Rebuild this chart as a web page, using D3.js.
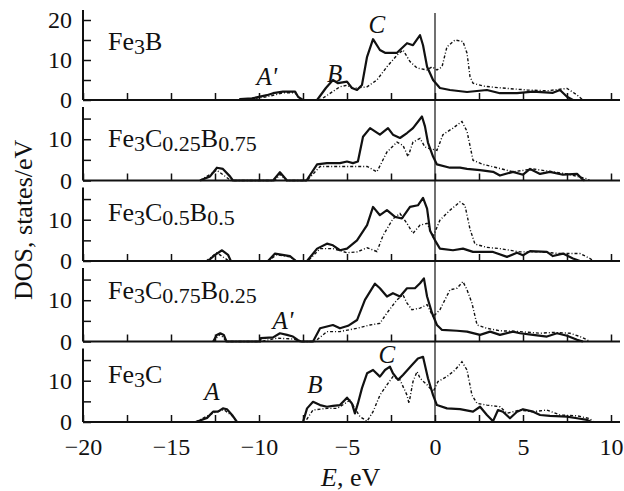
<!DOCTYPE html>
<html>
<head>
<meta charset="utf-8">
<script src="https://cdn.jsdelivr.net/npm/d3@7"></script>
<style>
  body { margin: 0; background: #fff; }
  text { font-family: "Liberation Serif", "Times New Roman", serif; fill: #111; }
</style>
</head>
<body>
<svg id="chart" width="624" height="491"></svg>
<script>
// ---- données : [E (eV), DOS (états/eV)] ----

const formulas = [
  [["Fe", 0], ["3", 1], ["B", 0]],
  [["Fe", 0], ["3", 1], ["C", 0], ["0.25", 1], ["B", 0], ["0.75", 1]],
  [["Fe", 0], ["3", 1], ["C", 0], ["0.5", 1], ["B", 0], ["0.5", 1]],
  [["Fe", 0], ["3", 1], ["C", 0], ["0.75", 1], ["B", 0], ["0.25", 1]],
  [["Fe", 0], ["3", 1], ["C", 0]]
];
// hauteur (en DOS) de la ligne de base du nom
const formulaDos = [12.5, 8.0, 9.7, 10.2, 9.4];

const fe3bUp = [[-11.1,0],[-11.08,0.2],[-10.4,0.4],[-9.55,1.2],[-9.2,1.7],[-8.64,2.1],[-7.95,2.1],[-7.78,0.8],[-7.5,0],[-6.7,0],[-6.2,3.0],[-5.8,5.0],[-5.51,4.2],[-5.0,4.6],[-4.72,3.0],[-4.43,2.5],[-4.15,3.75],[-3.86,10.8],[-3.52,15.2],[-3.13,12.5],[-2.84,11.8],[-2.16,11.8],[-1.59,14.2],[-1.25,13.7],[-0.85,16.2],[-0.68,13.7],[-0.45,8.3],[-0.11,5.0],[0.28,3.0],[0.85,2.5],[1.82,2.0],[2.95,2.5],[3.69,1.7],[4.66,1.7],[5.57,2.1],[6.7,1.8],[7.1,2.5],[7.5,0.8],[7.84,0]];
const fe3bDn = [[-11.1,0],[-10.4,0.3],[-9.55,0.8],[-8.64,1.8],[-7.95,1.8],[-7.6,0],[-6.53,0],[-5.4,3.3],[-5.0,3.7],[-4.66,2.9],[-3.86,3.3],[-3.3,5.0],[-2.73,8.3],[-2.16,11.2],[-1.82,12.5],[-1.42,9.6],[-1.02,8.0],[-0.45,7.5],[-0.17,8.3],[0.11,7.5],[0.4,8.3],[0.68,13.3],[1.14,15.0],[1.59,14.6],[1.82,11.7],[1.99,5.8],[2.16,4.2],[2.73,3.5],[3.3,3.2],[4.09,2.9],[5.23,2.5],[6.36,2.3],[7.5,2.9],[8.07,1.25],[8.41,0]];

const c25Up = [[-13.35,0],[-12.78,1.0],[-12.39,3.1],[-12.05,2.8],[-11.65,1.0],[-11.48,0],[-9.2,0],[-8.81,2.0],[-8.41,0],[-7.3,0],[-6.7,3.9],[-6.14,4.2],[-5.4,4.2],[-5.0,4.6],[-4.66,4.2],[-4.38,4.6],[-4.09,10.6],[-3.69,12.7],[-3.13,11.1],[-2.67,12.7],[-2.39,11.1],[-1.99,10.3],[-1.59,11.5],[-1.25,12.7],[-0.74,15.5],[-0.57,13.1],[-0.4,9.2],[-0.11,5.8],[0.11,3.9],[0.85,3.1],[1.42,3.1],[1.82,2.8],[2.56,2.5],[3.3,2.1],[3.69,1.2],[4.43,2.1],[5.0,1.4],[5.4,2.8],[5.97,1.6],[6.53,2.1],[7.27,1.4],[8.07,1.6],[8.35,0.4],[8.5,0]];
const c25Dn = [[-13.35,0],[-12.4,2.5],[-11.6,0],[-9.1,0],[-8.8,1.5],[-8.45,0],[-7.27,0],[-6.53,3.4],[-5.8,3.4],[-5.0,3.4],[-4.43,3.4],[-3.86,3.4],[-3.3,2.1],[-2.73,6.9],[-2.16,9.3],[-1.82,8.5],[-1.53,5.8],[-1.25,9.3],[-0.85,10.2],[-0.57,8.1],[-0.28,7.7],[0.11,7.3],[0.45,11.1],[1.02,12.7],[1.53,14.3],[1.82,11.9],[2.16,4.9],[2.73,3.9],[3.52,3.1],[4.43,2.1],[5.57,2.8],[6.7,2.1],[7.5,1.6],[8.64,0.4],[8.8,0]];

const c50Up = [[-12.9,0],[-12.5,1.5],[-12.1,2.6],[-11.76,1.5],[-11.6,0],[-9.49,0],[-9.09,1.8],[-8.24,1.2],[-7.9,0],[-7.27,0],[-6.7,3.0],[-6.14,4.2],[-5.8,3.8],[-5.4,2.6],[-5.0,3.0],[-4.43,5.0],[-3.86,8.7],[-3.52,13.1],[-3.13,11.1],[-2.73,12.3],[-2.27,10.7],[-1.88,10.3],[-1.42,13.1],[-0.97,13.5],[-0.68,15.3],[-0.45,12.7],[-0.28,7.3],[0,5.0],[0.28,3.0],[1.02,2.6],[1.59,3.0],[2.16,2.2],[3.3,2.2],[4.09,1.0],[4.66,2.0],[5.0,1.4],[5.4,2.4],[6.36,2.2],[6.7,1.2],[7.27,1.8],[7.84,0.6],[8.24,0]];
const c50Dn = [[-13.0,0],[-12.4,2.0],[-11.7,0],[-9.5,0],[-9.0,1.5],[-8.2,1.0],[-7.9,0],[-7.22,0],[-6.53,3.0],[-5.8,3.0],[-5.0,2.0],[-4.43,2.2],[-3.86,3.2],[-3.3,2.3],[-2.95,6.2],[-2.39,10.2],[-1.99,11.5],[-1.59,9.1],[-1.25,6.7],[-0.85,8.7],[-0.45,9.1],[-0.11,5.9],[0.28,9.9],[0.85,12.3],[1.42,14.3],[1.7,13.5],[1.99,7.7],[2.27,4.1],[2.95,3.3],[3.69,3.0],[4.83,2.2],[5.97,2.2],[7.1,1.8],[8.24,1.8],[8.81,0.6],[9.0,0]];

const c75Up = [[-12.6,0],[-12.4,1.6],[-12.2,2.0],[-12.0,1.6],[-11.85,0],[-9.94,0],[-9.9,0.8],[-9.2,1.0],[-8.81,2.0],[-8.41,1.6],[-8.07,1.2],[-7.78,0.3],[-7.6,0],[-6.93,0],[-6.53,3.2],[-5.8,4.0],[-5.4,3.2],[-4.94,3.8],[-4.43,5.2],[-3.98,10.1],[-3.41,14.0],[-3.13,12.9],[-2.73,10.9],[-2.39,11.7],[-1.99,10.9],[-1.59,12.9],[-1.14,12.9],[-0.85,14.1],[-0.63,15.3],[-0.45,10.9],[-0.17,6.9],[0.11,4.0],[0.4,2.8],[1.25,2.6],[1.82,2.4],[2.56,1.6],[3.13,2.4],[3.69,1.6],[4.43,2.4],[4.83,2.0],[5.57,1.6],[6.36,1.2],[6.93,2.0],[7.5,1.4],[8.07,0.4],[8.41,0]];
const c75Dn = [[-12.6,0],[-12.2,1.8],[-11.85,0],[-9.9,0],[-9.0,0.8],[-8.0,0.6],[-7.7,0],[-6.82,0],[-6.14,2.4],[-5.4,2.4],[-4.43,3.2],[-3.69,4.0],[-3.13,4.4],[-2.73,6.9],[-2.16,10.1],[-1.82,11.3],[-1.59,9.3],[-1.31,7.7],[-0.85,8.1],[-0.45,8.9],[-0.11,6.0],[0.28,7.7],[0.85,12.5],[1.25,12.9],[1.59,14.5],[1.82,12.5],[2.1,9.3],[2.39,4.0],[2.95,3.2],[3.69,2.6],[4.83,2.4],[5.97,2.0],[6.7,2.2],[7.67,2.0],[8.24,1.2],[8.64,0.4],[8.8,0]];

const fe3cUp = [[-13.6,0],[-13.47,0.2],[-12.95,1.0],[-12.61,2.5],[-12.33,2.5],[-12.05,3.3],[-11.82,3.1],[-11.53,1.7],[-11.25,0],[-7.5,0],[-7.27,3.3],[-6.93,4.9],[-6.53,4.1],[-6.14,3.7],[-5.8,3.9],[-5.4,4.1],[-5.0,5.9],[-4.72,4.5],[-4.55,2.1],[-4.38,4.5],[-4.15,8.2],[-3.86,11.8],[-3.52,12.6],[-3.13,11.0],[-2.84,12.6],[-2.56,13.4],[-2.39,11.8],[-2.1,10.2],[-1.82,11.4],[-1.31,13.8],[-0.97,15.4],[-0.68,15.8],[-0.4,10.6],[-0.11,6.5],[0.11,4.1],[0.68,3.3],[1.42,3.1],[2.16,2.5],[2.56,3.7],[2.95,1.7],[3.3,0.2],[3.58,2.9],[3.86,2.5],[4.26,0.9],[4.66,2.5],[5.0,3.1],[5.57,2.5],[5.97,1.7],[6.53,1.5],[7.5,1.3],[8.07,0.9],[8.64,0.5],[8.9,0]];
const fe3cDn = [[-13.6,0],[-12.6,2.2],[-12.0,3.0],[-11.5,1.4],[-11.25,0],[-7.39,0],[-6.93,2.9],[-6.14,3.3],[-5.57,3.3],[-5.4,3.7],[-4.83,5.3],[-4.55,3.3],[-4.26,1.3],[-3.86,0.2],[-3.52,2.5],[-3.13,6.5],[-2.73,9.0],[-2.39,11.0],[-1.99,10.2],[-1.59,6.5],[-1.48,4.5],[-1.25,9.8],[-1.02,12.2],[-0.85,10.6],[-0.45,9.0],[-0.11,7.3],[0.17,9.8],[0.68,11.0],[1.14,12.6],[1.53,14.6],[1.82,12.6],[2.1,6.5],[2.39,4.5],[2.95,4.1],[3.69,3.7],[4.09,2.1],[4.83,2.9],[5.57,2.5],[6.36,2.9],[7.1,1.7],[8.07,1.5],[8.81,0.8],[9.0,0]];

const spinUp = [fe3bUp, c25Up, c50Up, c75Up, fe3cUp];
const spinDn = [fe3bDn, c25Dn, c50Dn, c75Dn, fe3cDn];

// lettres des pics : [panneau, texte, E, DOS]
const peakLabels = [
  [0, "A'", -9.55, 3.75],
  [0, "B", -5.7, 4.5],
  [0, "C", -3.3, 16.75],
  [3, "A'", -8.64, 3.1],
  [4, "A", -12.67, 5.3],
  [4, "B", -6.82, 7.0],
  [4, "C", -2.73, 14.3]
];

const xTicks = d3.range(-20, 10.01, 2.5);
const yTicks = [0, 5, 10, 15, 20];

//---------------------------------------------------------------------------------------

const svg = d3.select("#chart");
const x = d3.scaleLinear().domain([-20, 10]).range([83, 611]);
const fontSize = 24;
const bigFont = 26;

const panelBottom = i => 100 + i * 80.5;

const yScales = spinUp.map((d, i) => i === 0
  ? d3.scaleLinear().domain([0, 22.5]).range([100, 10])
  : d3.scaleLinear().domain([0, 19.5]).range([panelBottom(i), panelBottom(i) - 80.5]));

spinUp.forEach((d, i) => {
  const y = yScales[i];
  const g = svg.append("g");
  const axisTop = i === 0 ? 22.5 : 17.8;

  // axe vertical
  g.append("line")
    .attr("x1", x(-20)).attr("x2", x(-20))
    .attr("y1", y(0)).attr("y2", y(axisTop))
    .attr("stroke", "#111").attr("stroke-width", 2);

  // ticks Y
  const yAxis = d3.axisLeft(y)
    .tickValues(yTicks.filter(t => t <= axisTop))
    .tickSize(-8)
    .tickPadding(11)
    .tickFormat(t => t % 10 === 0 ? t : "");
  const ya = g.append("g").attr("transform", `translate(${x(-20)},0)`).call(yAxis);
  ya.select(".domain").remove();
  ya.selectAll("line").attr("stroke", "#111").attr("stroke-width", 1.5);
  ya.selectAll("text").attr("font-size", fontSize)
    .style("font-family", "'Liberation Serif', serif").attr("fill", "#111");

  // axe horizontal
  g.append("line")
    .attr("x1", x(-20)).attr("x2", 620)
    .attr("y1", y(0)).attr("y2", y(0))
    .attr("stroke", "#111").attr("stroke-width", 2);

  const xAxis = d3.axisBottom(x)
    .tickValues(xTicks)
    .tickSize(-7)
    .tickSizeOuter(0)
    .tickPadding(16)
    .tickFormat(t => (i === 4 && t % 5 === 0) ? d3.format("d")(t) : "");
  const xa = g.append("g").attr("transform", `translate(0,${y(0)})`).call(xAxis);
  xa.select(".domain").remove();
  xa.selectAll("line").attr("stroke", "#111").attr("stroke-width", 1.5);
  xa.selectAll("text").attr("font-size", fontSize)
    .style("font-family", "'Liberation Serif', serif").attr("fill", "#111");

  const line = d3.line().x(p => x(p[0])).y(p => y(p[1]));

  // spin down : tirets-points
  g.append("path")
    .attr("d", line(spinDn[i]))
    .attr("fill", "none")
    .attr("stroke", "#111")
    .attr("stroke-width", 1.4)
    .attr("stroke-dasharray", "3,2,1,2");

  // spin up : trait plein
  g.append("path")
    .attr("d", line(spinUp[i]))
    .attr("fill", "none")
    .attr("stroke", "#111")
    .attr("stroke-width", 2.2)
    .attr("stroke-linejoin", "round");

  // nom du composé
  const t = g.append("text")
    .attr("x", x(-18.58))
    .attr("y", y(formulaDos[i]))
    .attr("font-size", bigFont);
  formulas[i].forEach(([s, sub], k) => {
    const prevSub = k > 0 && formulas[i][k - 1][1];
    t.append("tspan")
      .attr("font-size", sub ? 22 : bigFont)
      .attr("dy", sub && !prevSub ? 4 : (!sub && prevSub ? -4 : 0))
      .text(s);
  });
});

// lettres A, A', B, C
peakLabels.forEach(([p, s, e, v]) => {
  svg.append("text")
    .attr("x", x(e))
    .attr("y", yScales[p](v))
    .attr("text-anchor", "middle")
    .attr("font-size", 25)
    .attr("font-style", "italic")
    .text(s);
});

// niveau de Fermi
svg.append("line")
  .attr("x1", x(0)).attr("x2", x(0))
  .attr("y1", 13).attr("y2", panelBottom(4))
  .attr("stroke", "#111").attr("stroke-width", 1.2);

// titres des axes
svg.append("text")
  .attr("transform", "translate(32,300) rotate(-90)")
  .attr("font-size", bigFont)
  .text("DOS, states/eV");

const xt = svg.append("text")
  .attr("x", 321)
  .attr("y", 486)
  .attr("font-size", bigFont);
xt.append("tspan").attr("font-style", "italic").text("E");
xt.append("tspan").text(", eV");
</script>
</body>
</html>
